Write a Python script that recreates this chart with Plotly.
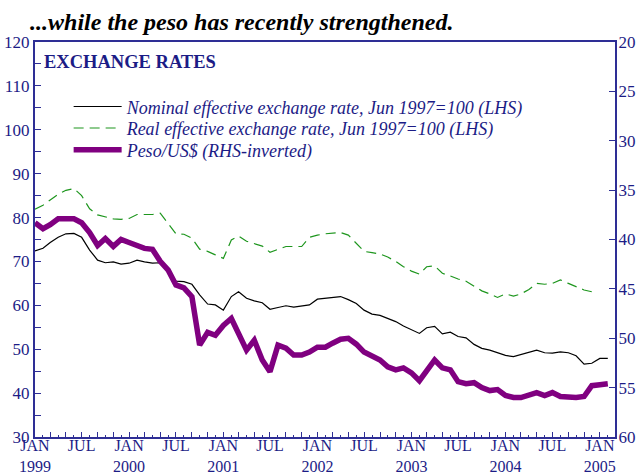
import pandas as pd
import plotly.graph_objects as go

# Monthly observations, Jan 1999 onward
months = pd.date_range("1999-01-01", periods=74, freq="MS")

nominal = [72.4, 73.0, 74.3, 75.5, 76.3, 76.4, 75.5, 72.6, 70.3, 69.7, 69.9, 69.4,
           69.6, 70.3, 69.9, 69.6, 69.7, 67.5, 65.5, 65.4, 64.8, 62.4, 60.3, 60.1,
           58.9, 62.0, 63.1, 61.6, 61.0, 60.6, 59.1, 59.5, 59.9, 59.6, 59.8, 60.1,
           61.4, 61.6, 61.7, 62.0, 61.3, 60.4, 58.9, 58.0, 57.7, 57.0, 56.3, 55.3,
           54.4, 53.6, 54.9, 55.2, 53.5, 53.9, 52.9, 52.6, 51.1, 50.2, 49.8, 49.2,
           48.6, 48.3, 48.8, 49.2, 49.8, 49.2, 49.1, 49.4, 49.2, 48.5, 46.6, 46.8,
           47.9, 47.9]

real = [81.9, 82.8, 84.0, 85.3, 86.2, 86.6, 85.0, 82.0, 80.6, 80.2, 79.7, 79.6,
        79.8, 80.7, 80.7, 80.7, 81.0, 78.5, 76.3, 76.2, 75.3, 72.8, 72.3, 71.5,
        70.7, 74.9, 75.8, 74.6, 74.0, 73.5, 72.1, 72.8, 73.4, 73.4, 73.4, 75.5,
        76.0, 76.3, 76.5, 76.6, 76.0, 74.0, 72.3, 72.0, 71.7, 71.0, 70.0, 68.8,
        67.8, 67.1, 68.8, 69.0, 67.3, 66.7, 66.0, 65.5, 64.3, 63.3, 62.6, 61.8,
        62.6, 62.1, 62.6, 63.6, 65.0, 64.8, 65.0, 65.8, 65.0, 64.3, 63.5, 63.1]

peso = [38.3, 38.9, 38.5, 37.9, 37.9, 37.9, 38.3, 39.3, 40.6, 39.9, 40.7, 40.0,
        40.3, 40.6, 40.9, 41.0, 42.2, 43.1, 44.6, 44.9, 45.8, 50.7, 49.4, 49.7,
        48.7, 48.0, 49.4, 51.2, 50.2, 52.2, 53.4, 50.7, 51.0, 51.7, 51.7, 51.4,
        50.9, 50.9, 50.5, 50.1, 50.0, 50.6, 51.4, 51.8, 52.2, 52.9, 53.2, 53.0,
        53.5, 54.3, 53.2, 52.2, 53.0, 53.2, 54.4, 54.6, 54.5, 55.0, 55.3, 55.2,
        55.8, 56.0, 56.0, 55.7, 55.5, 55.8, 55.5, 55.9, 56.0, 56.0, 55.9, 54.8,
        54.7, 54.6]

series_names = ["Nominal effective exchange rate, Jun 1997=100 (LHS)",
                "Real effective exchange rate, Jun 1997=100 (LHS)",
                "Peso/US$ (RHS-inverted)"]

left_ticks = [30, 40, 50, 60, 70, 80, 90, 100, 110, 120]
right_ticks = [20, 25, 30, 35, 40, 45, 50, 55, 60]

# x tick labels: every second month gets a long tick, JAN/JUL labelled
tick_dates = pd.date_range("1999-01-01", "2005-03-01", freq="2MS")
tick_text = []
for d in tick_dates:
    if d.month == 1:
        tick_text.append(f"JAN<br>{d.year}")
    elif d.month == 7:
        tick_text.append("JUL")
    else:
        tick_text.append("")

NAVY = "#1c1c86"
LINE = "#2e2e95"
SERIF = "Liberation Serif, Times New Roman, serif"

fig = go.Figure()
fig.add_trace(go.Scatter(x=months[:len(nominal)], y=nominal,
                         name=f"<i>{series_names[0]}</i>", legend="legend",
                         mode="lines", line=dict(color="#000000", width=1.2)))
fig.add_trace(go.Scatter(x=months[:len(real)], y=real,
                         name=f"<i>{series_names[1]}</i>", legend="legend2",
                         mode="lines", line=dict(color="#1e961e", width=1.2, dash="10px,6px")))
fig.add_trace(go.Scatter(x=months[:len(peso)], y=peso,
                         name=f"<i>{series_names[2]}</i>", legend="legend3",
                         mode="lines", yaxis="y2",
                         line=dict(color="#800080", width=5.5)))

leg_common = dict(x=0.058, xanchor="left", yanchor="middle",
                  bgcolor="rgba(0,0,0,0)", borderwidth=0, itemwidth=48,
                  font=dict(family=SERIF, size=18, color=NAVY))

fig.update_layout(
    width=640, height=475,
    margin=dict(l=35, r=25, t=42, b=38),
    paper_bgcolor="white", plot_bgcolor="white",
    font=dict(family=SERIF, color=NAVY, size=17),
    title=dict(text="<b><i>...while the peso has recently strengthened.</i></b>",
               xref="container", x=0.047, xanchor="left",
               yref="container", y=0.955, yanchor="middle",
               font=dict(family=SERIF, size=24, color="#000000")),
    showlegend=True,
    legend=dict(y=0.836, **leg_common),
    legend2=dict(y=0.7815, **leg_common),
    legend3=dict(y=0.7266, **leg_common),
    xaxis=dict(
        range=["1999-01-01", "2005-03-01"], automargin=False,
        tickmode="array", tickvals=tick_dates, ticktext=tick_text,
        ticks="inside", ticklen=5, tickwidth=1, tickcolor=LINE,
        minor=dict(dtick="M1", tick0="1999-01-01", ticks="inside", ticklen=2.5,
                   tickwidth=1, tickcolor=LINE),
        showline=True, linecolor=LINE, linewidth=2, mirror=True,
        showgrid=False, zeroline=False, ticklabelstandoff=-7,
        tickfont=dict(family=SERIF, size=16, color=NAVY), tickangle=0,
    ),
    yaxis=dict(
        range=[30, 120], tickmode="array", tickvals=left_ticks, automargin=False,
        ticks="inside", ticklen=6, tickwidth=1, tickcolor=LINE,
        minor=dict(dtick=5, tick0=30, ticks="inside", ticklen=6,
                   tickwidth=1, tickcolor=LINE),
        showline=True, linecolor=LINE, linewidth=2, mirror=True,
        showgrid=False, zeroline=False, ticklabelstandoff=0,
        tickfont=dict(family=SERIF, size=17, color=NAVY),
    ),
    yaxis2=dict(
        range=[60, 20], overlaying="y", side="right", automargin=False,
        tickmode="array", tickvals=right_ticks,
        ticks="inside", ticklen=6, tickwidth=1, tickcolor=LINE,
        showline=True, linecolor=LINE, linewidth=2,
        showgrid=False, zeroline=False, ticklabelstandoff=-2,
        tickfont=dict(family=SERIF, size=17, color=NAVY),
    ),
    annotations=[dict(text="<b>EXCHANGE RATES</b>", xref="paper", yref="paper",
                      x=0.012, y=0.95, xanchor="left", yanchor="middle",
                      showarrow=False,
                      font=dict(family=SERIF, size=18.5, color=NAVY))],
)

fig.write_html("out.html", config={"displayModeBar": False},
               post_script="document.body.style.margin='0px';")
